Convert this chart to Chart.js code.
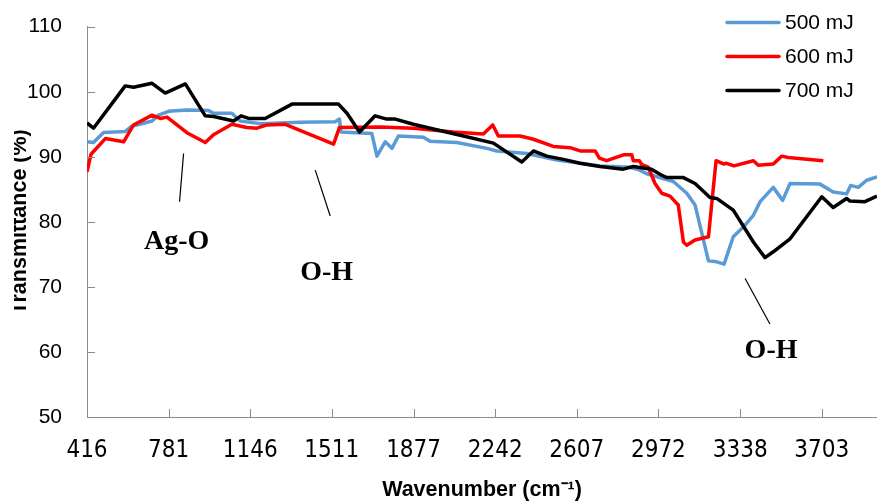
<!DOCTYPE html>
<html><head><meta charset="utf-8">
<script src="https://cdn.jsdelivr.net/npm/chart.js@4.4.1/dist/chart.umd.min.js"></script>
<style>html,body{margin:0;padding:0;background:#fff}#wrap{width:877px;height:503px;position:relative}</style>
</head><body><div id="wrap"><canvas id="c" width="877" height="503"></canvas></div>
<script>
const seriesLabels = ['500 mJ', '600 mJ', '700 mJ'];
const seriesColors = ['#5B9BD5', '#FF0000', '#000000'];
const xTickValues = [416, 781, 1146, 1511, 1877, 2242, 2607, 2972, 3338, 3703];
const xMin = 416, xMax = 3950;
const yMin = 50, yMax = 110, yStep = 10;

const wn500 = [416,445,490,587,617,707,736,781,863,960,982,1064,1101,1191,1370,1526,1545,1552,1690,1713,1750,1780,1809,1921,1951,2070,2205,2249,2384,2518,2711,2845,2889,2920,3039,3099,3136,3196,3233,3266,3307,3352,3397,3427,3486,3528,3561,3695,3754,3814,3832,3866,3904,3950];
const t500 = [92.3,92.2,93.75,93.9,94.7,95.5,96.4,97.0,97.2,97.1,96.7,96.7,95.5,95.1,95.3,95.4,95.8,93.8,93.6,90.1,92.3,91.3,93.2,93.0,92.4,92.2,91.3,90.9,90.5,89.5,88.6,88.4,87.95,87.4,86.2,84.4,82.6,74.0,73.85,73.5,77.7,79.2,81.0,83.1,85.3,83.3,85.9,85.8,84.6,84.3,85.6,85.3,86.4,86.9];

const wn600 = [416,434,498,580,624,707,744,774,863,945,982,1064,1131,1176,1221,1303,1519,1545,1727,1876,2055,2189,2231,2256,2354,2413,2502,2577,2622,2689,2708,2741,2816,2853,2860,2887,2898,2927,2957,2987,3024,3061,3084,3099,3136,3196,3230,3263,3278,3310,3397,3419,3486,3524,3553,3710];
const t600 = [87.7,90.4,92.8,92.3,94.9,96.4,95.9,96.1,93.7,92.2,93.4,95.0,94.5,94.4,94.9,95.0,91.95,94.5,94.6,94.4,93.8,93.5,94.9,93.2,93.2,92.7,91.6,91.4,90.9,90.9,89.8,89.4,90.3,90.3,89.4,89.4,88.8,88.4,85.9,84.4,83.95,82.6,76.9,76.4,77.2,77.7,89.4,88.9,89.0,88.6,89.4,88.7,88.9,90.1,89.9,89.4];

const wn700 = [416,445,587,624,707,766,856,945,982,1072,1105,1139,1213,1333,1541,1579,1635,1705,1757,1795,1876,1951,2100,2234,2361,2413,2473,2547,2622,2711,2815,2860,2941,2985,3010,3084,3136,3203,3233,3307,3397,3449,3486,3561,3703,3754,3814,3829,3896,3950];
const t700 = [95.2,94.4,100.9,100.7,101.3,99.8,101.2,96.3,96.2,95.5,96.3,95.9,95.9,98.1,98.1,96.7,93.8,96.3,95.8,95.8,95.0,94.4,93.2,92.1,89.2,90.9,90.1,89.6,89.0,88.5,88.1,88.5,88.1,87.2,86.8,86.8,85.9,83.75,83.6,81.8,76.9,74.5,75.4,77.4,83.85,82.2,83.6,83.2,83.1,83.95];

const annoLabels = ['Ag-O', 'O-H', 'O-H'];
const annoTextX = [817, 1488, 3476];
const annoTextY = [75.75, 71.0, 59.1];
const leadX1 = [848, 1437, 3360];
const leadY1 = [90.5, 87.95, 71.3];
const leadX2 = [830, 1504, 3471];
const leadY2 = [83.1, 80.9, 64.3];

const xTitle = 'Wavenumber (cm\u207B\u00B9)';
const yTitle = 'Transmittance (%)';

const toPts = (xs, ys) => xs.map((x, i) => ({x: x, y: ys[i]}));
const allX = [wn500, wn600, wn700];
const allY = [t500, t600, t700];

const AXIS = '#8c8c8c';

const decor = {
  id: 'decor',
  afterDatasetsDraw(chart) {
    const ctx = chart.ctx, xs = chart.scales.x, ys = chart.scales.y;
    ctx.save();
    ctx.strokeStyle = '#000'; ctx.lineWidth = 1.2;
    for (let i = 0; i < annoLabels.length; i++) {
      ctx.beginPath();
      ctx.moveTo(xs.getPixelForValue(leadX1[i]), ys.getPixelForValue(leadY1[i]));
      ctx.lineTo(xs.getPixelForValue(leadX2[i]), ys.getPixelForValue(leadY2[i]));
      ctx.stroke();
      ctx.font = 'bold 28px "Liberation Serif", "Times New Roman", serif';
      ctx.fillStyle = '#000'; ctx.textAlign = 'center'; ctx.textBaseline = 'alphabetic';
      ctx.fillText(annoLabels[i], xs.getPixelForValue(annoTextX[i]), ys.getPixelForValue(annoTextY[i]));
    }
    ctx.restore();
  },
  afterDraw(chart) {
    const ctx = chart.ctx, xs = chart.scales.x, ys = chart.scales.y, ca = chart.chartArea;
    ctx.save();
    ctx.strokeStyle = AXIS; ctx.lineWidth = 1;
    xTickValues.forEach((v, i) => {
      if (i === 0) return;
      const px = Math.round(xs.getPixelForValue(v)) + 0.5;
      ctx.beginPath(); ctx.moveTo(px, ca.bottom); ctx.lineTo(px, ca.bottom - 8); ctx.stroke();
    });
    ys.ticks.forEach(t => {
      if (t.value === yMin) return;
      const py = Math.round(ys.getPixelForValue(t.value)) + 0.5;
      ctx.beginPath(); ctx.moveTo(ca.left, py); ctx.lineTo(ca.left + 8, py); ctx.stroke();
    });
    chart.data.datasets.forEach((ds, i) => {
      const y = 22.5 + i * 34;
      ctx.strokeStyle = ds.borderColor; ctx.lineWidth = 3.5; ctx.lineCap = 'round';
      ctx.beginPath(); ctx.moveTo(727, y); ctx.lineTo(779, y); ctx.stroke();
      ctx.fillStyle = '#000'; ctx.font = '21px "Liberation Sans", Arial, sans-serif';
      ctx.textAlign = 'left'; ctx.textBaseline = 'middle';
      ctx.fillText(ds.label, 785, y + 1);
    });
    ctx.fillStyle = '#000';
    ctx.font = 'bold 21.5px "Liberation Sans", Arial, sans-serif';
    ctx.textAlign = 'center'; ctx.textBaseline = 'middle';
    ctx.fillText(xTitle, (ca.left + ca.right) / 2, 490);
    ctx.save();
    ctx.beginPath(); ctx.rect(14, 0, 100, 503); ctx.clip();
    ctx.translate(25.5, (ca.top + ca.bottom) / 2);
    ctx.rotate(-Math.PI / 2);
    ctx.textAlign = 'center'; ctx.textBaseline = 'alphabetic';
    ctx.fillText(yTitle, 0, 0);
    ctx.restore();
    ctx.restore();
  }
};

new Chart(document.getElementById('c'), {
  type: 'line',
  data: {
    datasets: [0, 1, 2].map(i => ({
      label: seriesLabels[i],
      data: toPts(allX[i], allY[i]),
      borderColor: seriesColors[i],
      backgroundColor: seriesColors[i],
      borderWidth: 3.5,
      pointRadius: 0,
      tension: 0,
      fill: false,
      borderJoinStyle: 'round',
      order: 3 - i
    }))
  },
  options: {
    responsive: false,
    devicePixelRatio: 1,
    animation: false,
    layout: {padding: {top: 26.7, right: 0, left: 0, bottom: 0}},
    plugins: {legend: {display: false}, tooltip: {enabled: false}, title: {display: false}},
    scales: {
      x: {
        type: 'linear', min: xMin, max: xMax,
        afterBuildTicks: s => { s.ticks = xTickValues.map(v => ({value: v})); },
        afterFit: s => { s.height = 86; s.paddingLeft = 0; s.paddingRight = 0; },
        grid: {display: false, drawTicks: false},
        border: {display: true, color: AXIS, width: 1},
        ticks: {
          autoSkip: false, maxRotation: 0, padding: 19, color: '#000',
          font: {family: '"Liberation Sans Narrow", "DejaVu Sans Condensed", sans-serif', size: 24},
          callback: v => String(v)
        }
      },
      y: {
        min: yMin, max: yMax,
        afterFit: s => { s.width = 87; s.paddingTop = 0; s.paddingBottom = 0; },
        grid: {display: false, drawTicks: false},
        border: {display: true, color: AXIS, width: 1},
        ticks: {
          stepSize: yStep, padding: 25, color: '#000',
          font: {family: '"Liberation Sans", Arial, sans-serif', size: 21}
        }
      }
    }
  },
  plugins: [decor]
});
</script>
</body></html>
